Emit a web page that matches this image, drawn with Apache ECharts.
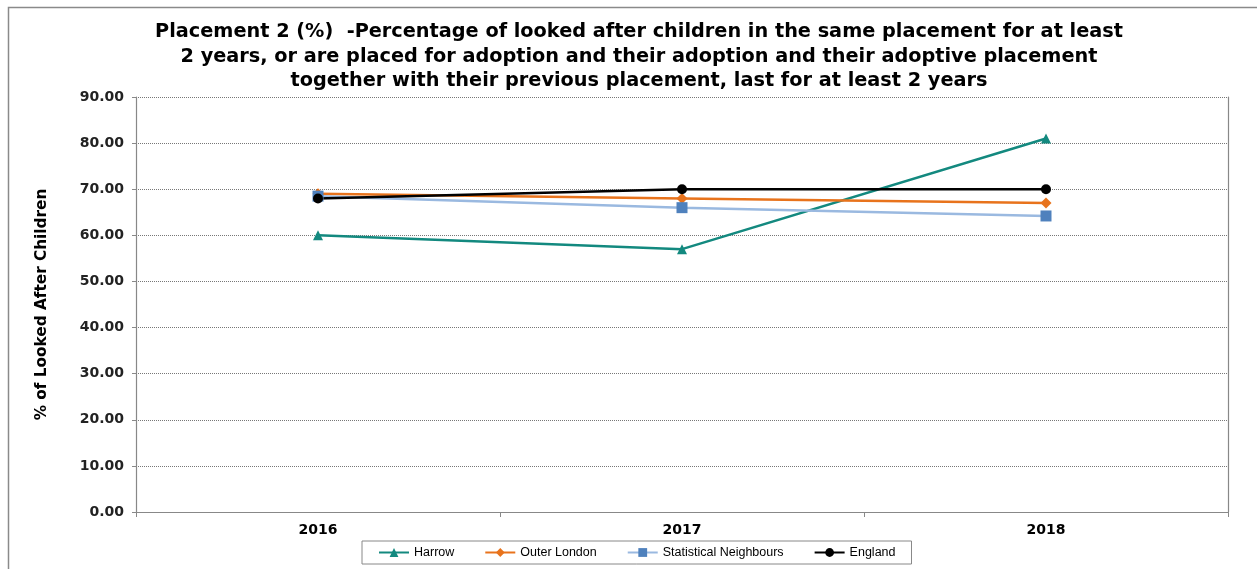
<!DOCTYPE html>
<html><head><meta charset="utf-8">
<script src="https://cdn.jsdelivr.net/npm/echarts@6/dist/echarts.min.js"></script>
<style>html,body{margin:0;padding:0;background:#fff}#c{width:1257px;height:569px}</style>
</head><body><div id="c"></div>
<script>
const categories = ['2016', '2017', '2018'];
const harrow = [60, 57, 81];
const outerLondon = [69, 68, 67];
const statNeighbours = [68.5, 66, 64.2];
const england = [68, 70, 70];
const yTicks = { min: 0, max: 90, interval: 10 };
const titleText = 'Placement 2 (%)  -Percentage of looked after children in the same placement for at least\n2 years, or are placed for adoption and their adoption and their adoptive placement\ntogether with their previous placement, last for at least 2 years';

const chart = echarts.init(document.getElementById('c'), null, { renderer: 'canvas' });
const font = 'DejaVu Sans';
function mk(name, data, color, lineColor, symbol, size) {
  return {
    name, type: 'line', data, symbol, symbolSize: size,
    lineStyle: { color: lineColor, width: 2.5 },
    itemStyle: { color: color, borderWidth: 0 },
    emphasis: { disabled: true }, animation: false
  };
}
chart.setOption({
  animation: false,
  graphic: [{ type: 'rect', shape: { x: 8.5, y: 7.5, width: 1400, height: 700 }, style: { fill: 'none', stroke: '#8a8a8a', lineWidth: 1.5 }, silent: true }],
  title: {
    text: titleText, left: 634, top: 15, textAlign: 'center',
    textStyle: { fontFamily: font, fontWeight: 'bold', fontSize: 19.3, lineHeight: 24.5, color: '#000' }
  },
  grid: { left: 136, right: 29, top: 97, bottom: 57, show: false },
  legend: {
    bottom: 5, left: 362,
    data: ['Harrow', 'Outer London', 'Statistical Neighbours', 'England'],
    itemWidth: 30, itemHeight: 11, itemGap: 30,
    borderColor: '#888', borderWidth: 1, borderRadius: 0, padding: [5, 16, 5, 16],
    textStyle: { fontFamily: 'Liberation Sans', fontSize: 12.5, color: '#000' }
  },
  xAxis: {
    type: 'category', data: categories, boundaryGap: true,
    axisLine: { lineStyle: { color: '#888', width: 1.2 } },
    axisTick: { show: true, interval: 0, alignWithLabel: false, length: 5, lineStyle: { color: '#888' } },
    axisLabel: { fontFamily: font, fontWeight: 'bold', fontSize: 14, color: '#000', margin: 11 }
  },
  yAxis: [{
    type: 'value', min: yTicks.min, max: yTicks.max, interval: yTicks.interval,
    name: '% of Looked After Children', nameLocation: 'middle', nameGap: 86, nameRotate: 90,
    nameTextStyle: { fontFamily: font, fontWeight: 'bold', fontSize: 15.3, color: '#000' },
    axisLine: { show: true, lineStyle: { color: '#888', width: 1.2 } },
    axisTick: { show: true, length: 4, lineStyle: { color: '#888' } },
    axisLabel: { fontFamily: font, fontWeight: 'bold', fontSize: 14, color: '#222', margin: 12, formatter: v => v.toFixed(2) },
    splitLine: { show: true, lineStyle: { color: '#777', type: [1, 1], width: 1 } }
  }, {
    type: 'value', position: 'right', min: yTicks.min, max: yTicks.max, interval: yTicks.interval,
    axisLine: { show: true, lineStyle: { color: '#888', width: 1.2 } },
    axisTick: { show: false }, axisLabel: { show: false }, splitLine: { show: false }
  }],
  series: [
    mk('Harrow', harrow, '#13897f', '#13897f', 'triangle', 10),
    mk('Outer London', outerLondon, '#e8731c', '#e8731c', 'diamond', 11),
    mk('Statistical Neighbours', statNeighbours, '#4f81bd', '#9ab9e0', 'rect', 11),
    mk('England', england, '#000000', '#000000', 'circle', 10)
  ]
});
</script></body></html>
